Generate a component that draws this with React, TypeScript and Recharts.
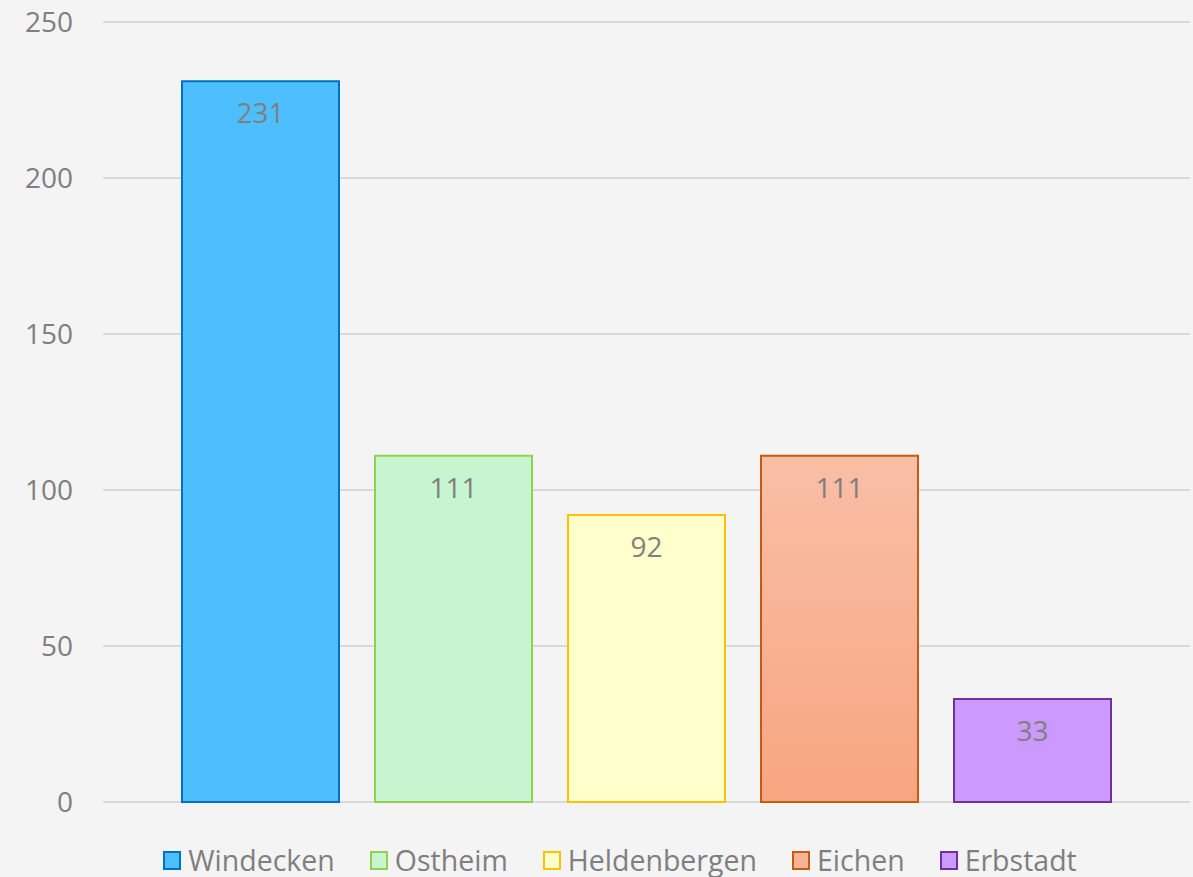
import { BarChart, Bar, XAxis, YAxis, CartesianGrid, Legend, LabelList } from 'recharts';

const categories = [''];
const seriesNames = ['Windecken', 'Ostheim', 'Heldenbergen', 'Eichen', 'Erbstadt'];
const seriesValues = [231, 111, 92, 111, 33];
const yTicks = [0, 50, 100, 150, 200, 250];

const fills = ['#4dbfff', '#c6f5d0', '#ffffcc', 'url(#eichenGradient)', '#cc99ff'];
const legendFills = ['#4dbfff', '#c6f5d0', '#ffffcc', '#f8b397', '#cc99ff'];
const strokes = ['#0070c0', '#92d050', '#ffc000', '#c55a11', '#7030a0'];

const data = categories.map((name) => {
  const row: Record<string, string | number> = { name };
  seriesNames.forEach((s, i) => {
    row[s] = seriesValues[i];
  });
  return row;
});

const font = '"Open Sans", "Noto Sans", sans-serif';

function LegendContent() {
  return (
    <div
      style={{
        display: 'flex',
        justifyContent: 'center',
        alignItems: 'center',
        height: 32,
        fontFamily: font,
        fontSize: 28.5,
        color: '#7f7f7f',
        paddingLeft: 82,
      }}
    >
      {seriesNames.map((s, i) => (
        <div key={s} style={{ display: 'flex', alignItems: 'center', marginRight: 35 }}>
          <span
            style={{
              display: 'inline-block',
              width: 14,
              height: 15,
              background: legendFills[i],
              border: `2px solid ${strokes[i]}`,
              marginRight: 7,
            }}
          />
          <span style={{ lineHeight: '32px' }}>{s}</span>
        </div>
      ))}
    </div>
  );
}

export default function App() {
  return (
    <div
      style={{
        position: 'absolute',
        left: 0,
        top: 0,
        width: 1193,
        height: 877,
        background: '#f4f4f4',
      }}
    >
      <BarChart
        width={1193}
        height={877}
        data={data}
        margin={{ top: 22, right: 3, left: 0, bottom: 43 }}
        barSize={157}
        barGap={36}
      >
        <defs>
          <linearGradient id="eichenGradient" x1="0" y1="0" x2="0" y2="1">
            <stop offset="0%" stopColor="#f9bfa6" />
            <stop offset="100%" stopColor="#f7a580" />
          </linearGradient>
        </defs>
        <CartesianGrid vertical={false} stroke="#d9d9d9" strokeWidth={2} />
        <XAxis dataKey="name" hide />
        <YAxis
          width={103}
          domain={[0, 250]}
          ticks={yTicks}
          axisLine={false}
          tickLine={false}
          tickSize={0}
          tickMargin={30}
          tick={{ fontSize: 28, fill: '#7f7f7f', fontFamily: font }}
        />
        <Legend
          verticalAlign="bottom"
          content={<LegendContent />}
          wrapperStyle={{ bottom: 1, left: 0, width: 1193 }}
        />
        {seriesNames.map((s, i) => (
          <Bar
            key={s}
            dataKey={s}
            fill={fills[i]}
            stroke={strokes[i]}
            strokeWidth={2}
            isAnimationActive={false}
          >
            <LabelList
              dataKey={s}
              position="insideTop"
              offset={22}
              fill="#7f7f7f"
              style={{ fontSize: 28, fontFamily: font }}
            />
          </Bar>
        ))}
      </BarChart>
    </div>
  );
}
